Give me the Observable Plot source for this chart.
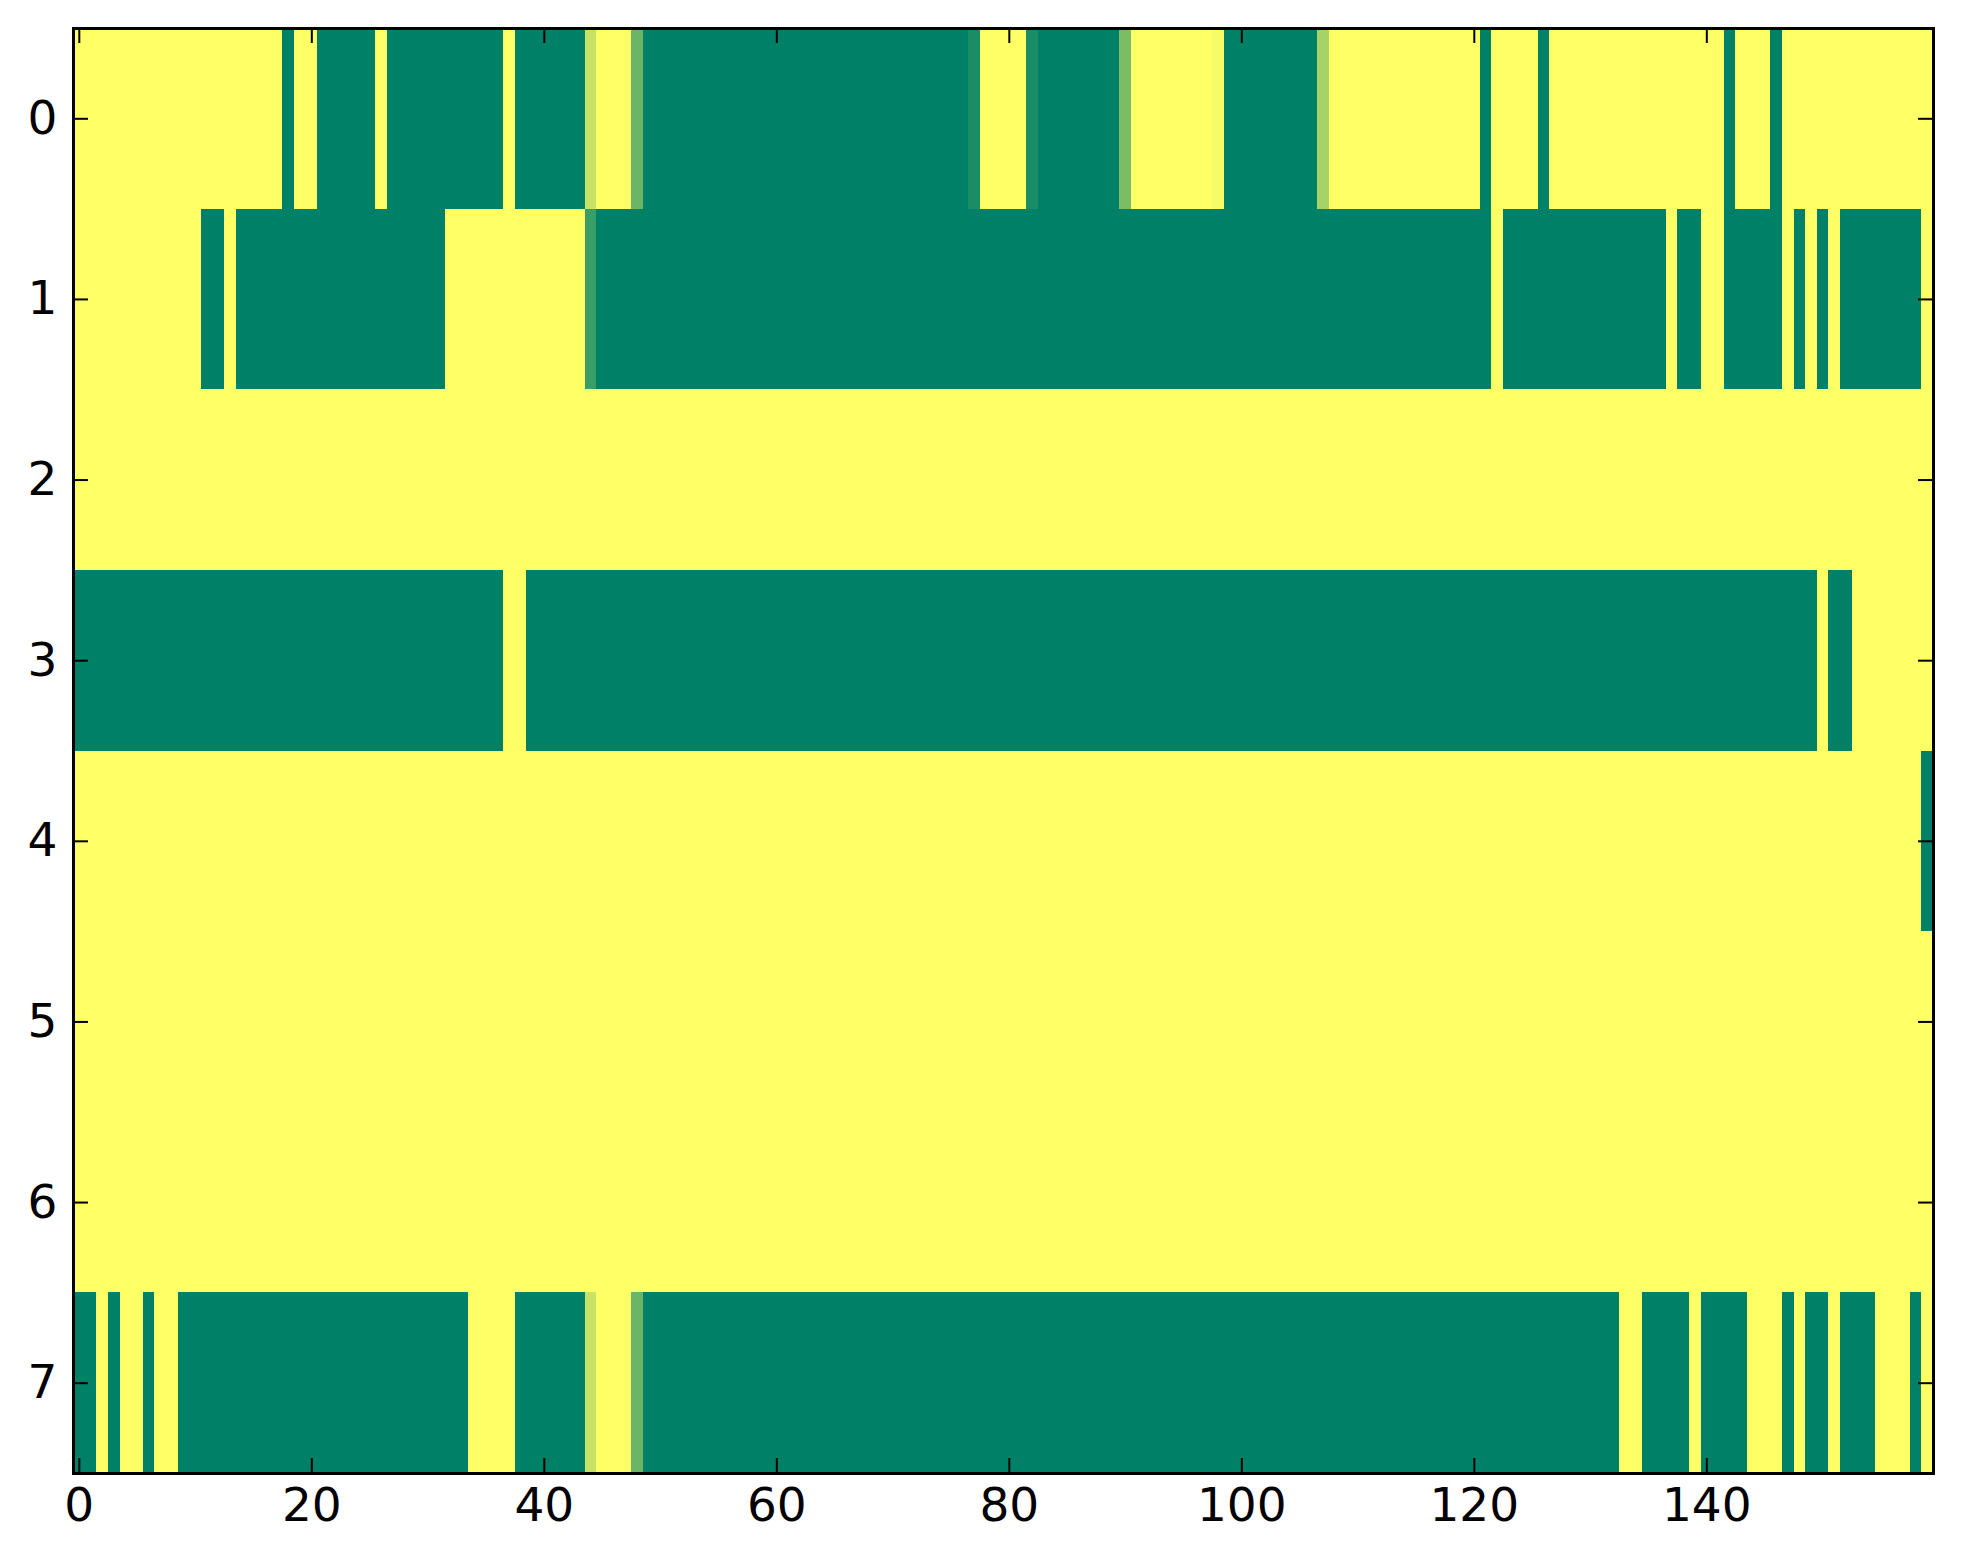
<!DOCTYPE html>
<html>
<head>
<meta charset="utf-8">
<script src="https://cdn.jsdelivr.net/npm/d3@7"></script>
<script src="https://cdn.jsdelivr.net/npm/@observablehq/plot@0.6"></script>
<style>
  html, body { margin: 0; padding: 0; background: white; }
  #chart svg { display: block; }
</style>
</head>
<body>
<div id="chart"></div>
<script>
// Cell values per row (0 = dark green, 1 = yellow, summer colormap)
const row0 = [
  1,1,1,1,1,1,1,1,1,1,
  1,1,1,1,1,1,1,1,0,1,
  1,0,0,0,0,0,1,0,0,0,
  0,0,0,0,0,0,0,1,0,0,
  0,0,0,0,0.78,1,1,1,0.42,0,
  0,0,0,0,0,0,0,0,0,0,
  0,0,0,0,0,0,0,0,0,0,
  0,0,0,0,0,0,0,0.1,1,1,
  1,1,0.1,0,0,0,0,0,0,0,
  0.48,1,1,1,1,1,1,1,0.97,0,
  0,0,0,0,0,0,0,0.65,1,1,
  1,1,1,1,1,1,1,1,1,1,
  1,0,1,1,1,1,0,1,1,1,
  1,1,1,1,1,1,1,1,1,1,
  1,1,0,1,1,1,0,1,1,1,
  1,1,1,1,1,1,1,1,1,1
];
const row1 = [
  1,1,1,1,1,1,1,1,1,1,
  1,0,0,1,0,0,0,0,0,0,
  0,0,0,0,0,0,0,0,0,0,
  0,0,1,1,1,1,1,1,1,1,
  1,1,1,1,0.23,0,0,0,0,0,
  0,0,0,0,0,0,0,0,0,0,
  0,0,0,0,0,0,0,0,0,0,
  0,0,0,0,0,0,0,0,0,0,
  0,0,0,0,0,0,0,0,0,0,
  0,0,0,0,0,0,0,0,0,0,
  0,0,0,0,0,0,0,0,0,0,
  0,0,0,0,0,0,0,0,0,0,
  0,0,1,0,0,0,0,0,0,0,
  0,0,0,0,0,0,0,1,0,0,
  1,1,0,0,0,0,0,1,0,1,
  0,1,0,0,0,0,0,0,0,1
];
const row2 = [
  1,1,1,1,1,1,1,1,1,1,
  1,1,1,1,1,1,1,1,1,1,
  1,1,1,1,1,1,1,1,1,1,
  1,1,1,1,1,1,1,1,1,1,
  1,1,1,1,1,1,1,1,1,1,
  1,1,1,1,1,1,1,1,1,1,
  1,1,1,1,1,1,1,1,1,1,
  1,1,1,1,1,1,1,1,1,1,
  1,1,1,1,1,1,1,1,1,1,
  1,1,1,1,1,1,1,1,1,1,
  1,1,1,1,1,1,1,1,1,1,
  1,1,1,1,1,1,1,1,1,1,
  1,1,1,1,1,1,1,1,1,1,
  1,1,1,1,1,1,1,1,1,1,
  1,1,1,1,1,1,1,1,1,1,
  1,1,1,1,1,1,1,1,1,1
];
const row3 = [
  0,0,0,0,0,0,0,0,0,0,
  0,0,0,0,0,0,0,0,0,0,
  0,0,0,0,0,0,0,0,0,0,
  0,0,0,0,0,0,0,1,1,0,
  0,0,0,0,0,0,0,0,0,0,
  0,0,0,0,0,0,0,0,0,0,
  0,0,0,0,0,0,0,0,0,0,
  0,0,0,0,0,0,0,0,0,0,
  0,0,0,0,0,0,0,0,0,0,
  0,0,0,0,0,0,0,0,0,0,
  0,0,0,0,0,0,0,0,0,0,
  0,0,0,0,0,0,0,0,0,0,
  0,0,0,0,0,0,0,0,0,0,
  0,0,0,0,0,0,0,0,0,0,
  0,0,0,0,0,0,0,0,0,0,
  1,0,0,1,1,1,1,1,1,1
];
const row4 = [
  1,1,1,1,1,1,1,1,1,1,
  1,1,1,1,1,1,1,1,1,1,
  1,1,1,1,1,1,1,1,1,1,
  1,1,1,1,1,1,1,1,1,1,
  1,1,1,1,1,1,1,1,1,1,
  1,1,1,1,1,1,1,1,1,1,
  1,1,1,1,1,1,1,1,1,1,
  1,1,1,1,1,1,1,1,1,1,
  1,1,1,1,1,1,1,1,1,1,
  1,1,1,1,1,1,1,1,1,1,
  1,1,1,1,1,1,1,1,1,1,
  1,1,1,1,1,1,1,1,1,1,
  1,1,1,1,1,1,1,1,1,1,
  1,1,1,1,1,1,1,1,1,1,
  1,1,1,1,1,1,1,1,1,1,
  1,1,1,1,1,1,1,1,1,0
];
const row5 = [
  1,1,1,1,1,1,1,1,1,1,
  1,1,1,1,1,1,1,1,1,1,
  1,1,1,1,1,1,1,1,1,1,
  1,1,1,1,1,1,1,1,1,1,
  1,1,1,1,1,1,1,1,1,1,
  1,1,1,1,1,1,1,1,1,1,
  1,1,1,1,1,1,1,1,1,1,
  1,1,1,1,1,1,1,1,1,1,
  1,1,1,1,1,1,1,1,1,1,
  1,1,1,1,1,1,1,1,1,1,
  1,1,1,1,1,1,1,1,1,1,
  1,1,1,1,1,1,1,1,1,1,
  1,1,1,1,1,1,1,1,1,1,
  1,1,1,1,1,1,1,1,1,1,
  1,1,1,1,1,1,1,1,1,1,
  1,1,1,1,1,1,1,1,1,1
];
const row6 = [
  1,1,1,1,1,1,1,1,1,1,
  1,1,1,1,1,1,1,1,1,1,
  1,1,1,1,1,1,1,1,1,1,
  1,1,1,1,1,1,1,1,1,1,
  1,1,1,1,1,1,1,1,1,1,
  1,1,1,1,1,1,1,1,1,1,
  1,1,1,1,1,1,1,1,1,1,
  1,1,1,1,1,1,1,1,1,1,
  1,1,1,1,1,1,1,1,1,1,
  1,1,1,1,1,1,1,1,1,1,
  1,1,1,1,1,1,1,1,1,1,
  1,1,1,1,1,1,1,1,1,1,
  1,1,1,1,1,1,1,1,1,1,
  1,1,1,1,1,1,1,1,1,1,
  1,1,1,1,1,1,1,1,1,1,
  1,1,1,1,1,1,1,1,1,1
];
const row7 = [
  0,0,1,0,1,1,0,1,1,0,
  0,0,0,0,0,0,0,0,0,0,
  0,0,0,0,0,0,0,0,0,0,
  0,0,0,0,1,1,1,1,0,0,
  0,0,0,0,0.78,1,1,1,0.42,0,
  0,0,0,0,0,0,0,0,0,0,
  0,0,0,0,0,0,0,0,0,0,
  0,0,0,0,0,0,0,0,0,0,
  0,0,0,0,0,0,0,0,0,0,
  0,0,0,0,0,0,0,0,0,0,
  0,0,0,0,0,0,0,0,0,0,
  0,0,0,0,0,0,0,0,0,0,
  0,0,0,0,0,0,0,0,0,0,
  0,0,0,1,1,0,0,0,0,1,
  0,0,0,0,1,1,1,0,1,0,
  0,1,0,0,0,1,1,1,0,1
];
const rows = [row0, row1, row2, row3, row4, row5, row6, row7];
const xTicks = [0, 20, 40, 60, 80, 100, 120, 140];
const yTicks = [0, 1, 2, 3, 4, 5, 6, 7];

const cells = rows.flatMap((r, i) => r.map((v, j) => ({col: j, row: i, v})));

const W = 1963, H = 1564;
const mL = 73, mR = 30, mT = 28, mB = 91;
const innerW = W - mL - mR, innerH = H - mT - mB;
const tickLen = 15;
const fs = 47;

const chart = Plot.plot({
  width: W,
  height: H,
  marginLeft: mL,
  marginRight: mR,
  marginTop: mT,
  marginBottom: mB,
  style: {fontFamily: "DejaVu Sans", background: "white", color: "black"},
  x: {type: "linear", domain: [-0.5, 159.5]},
  y: {type: "linear", domain: [7.5, -0.5]},
  color: {type: "linear", domain: [0, 1], range: ["#008066", "#ffff66"], interpolate: "rgb"},
  marks: [
    Plot.rect(cells, {
      x1: d => d.col - 0.5, x2: d => d.col + 0.5,
      y1: d => d.row - 0.5, y2: d => d.row + 0.5,
      fill: "v",
      shapeRendering: "crispEdges"
    }),
    // inward ticks on all four sides
    Plot.tickX(xTicks, {x: d => d, insetTop: innerH - tickLen, stroke: "black", strokeWidth: 2}),
    Plot.tickX(xTicks, {x: d => d, insetBottom: innerH - tickLen, stroke: "black", strokeWidth: 2}),
    Plot.tickY(yTicks, {y: d => d, insetRight: innerW - tickLen, stroke: "black", strokeWidth: 2}),
    Plot.tickY(yTicks, {y: d => d, insetLeft: innerW - tickLen, stroke: "black", strokeWidth: 2}),
    Plot.axisX({ticks: xTicks, tickSize: 0, tickPadding: 14, fontSize: fs, label: null, tickFormat: d => String(d)}),
    Plot.axisY({ticks: yTicks, tickSize: 0, tickPadding: 16, fontSize: fs, label: null, tickFormat: d => String(d)}),
    Plot.frame({stroke: "black", strokeWidth: 3})
  ]
});
document.getElementById("chart").appendChild(chart);
</script>
</body>
</html>
